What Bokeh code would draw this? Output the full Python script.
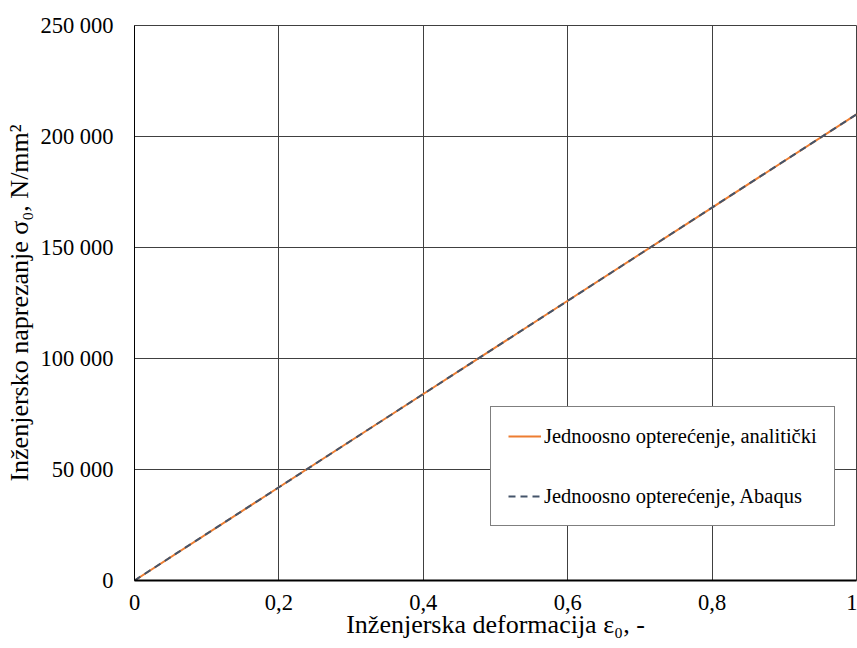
from bokeh.plotting import figure
from bokeh.models import Legend, LegendItem, FixedTicker, Range1d
from bokeh.embed import file_html
from bokeh.resources import INLINE

# data
strain = [0.0, 0.2, 0.4, 0.6, 0.8, 1.0]
stress_analytic = [0, 42000, 84000, 126000, 168000, 210000]
stress_abaqus = [0, 42000, 84000, 126000, 168000, 210000]
x_ticks = [0, 0.2, 0.4, 0.6, 0.8, 1.0]
x_tick_labels = ["0", "0,2", "0,4", "0,6", "0,8", "1"]
y_ticks = [0, 50000, 100000, 150000, 200000, 250000]
y_tick_labels = ["0", "50 000", "100 000", "150 000", "200 000", "250 000"]

FONT = "Liberation Serif"

p = figure(width=857, height=648, output_backend="svg", toolbar_location=None,
           x_range=Range1d(0, 1), y_range=Range1d(0, 250000),
           min_border_left=134, min_border_top=25, min_border_bottom=68, min_border_right=1)
p.outline_line_color = "#404040"
p.outline_line_width = 1

r1 = p.line(strain, stress_analytic, line_color="#ED7D31", line_width=2)
r2 = p.line(strain, stress_abaqus, line_color="#44546A", line_width=2, line_dash="7 5")

for ax in (p.xaxis[0], p.yaxis[0]):
    ax.major_tick_line_color = None
    ax.minor_tick_line_color = None
    ax.major_tick_out = 0
    ax.major_tick_in = 0
    ax.minor_tick_out = 0
    ax.major_label_text_font = FONT
    ax.major_label_text_font_size = "22.5px"
    ax.major_label_text_color = "black"
    ax.axis_label_text_font = FONT
    ax.axis_label_text_font_size = "26px"
    ax.axis_label_text_font_style = "normal"
    ax.axis_label_text_color = "black"
    ax.axis_line_color = "black"

p.xaxis.ticker = FixedTicker(ticks=x_ticks)
p.yaxis.ticker = FixedTicker(ticks=y_ticks)
p.xaxis.major_label_overrides = {t: l for t, l in zip(x_ticks, x_tick_labels)}
p.yaxis.major_label_overrides = {t: l for t, l in zip(y_ticks, y_tick_labels)}
p.xaxis.axis_line_width = 2
p.yaxis.axis_line_width = 1
p.xaxis.major_label_standoff = 14
p.yaxis.major_label_standoff = 21
p.xaxis.axis_label_standoff = -3
p.yaxis.axis_label_standoff = 3
p.xaxis.axis_label = "Inženjerska deformacija ε₀, -"
p.yaxis.axis_label = "Inženjersko naprezanje σ₀, N/mm²"

p.xgrid.ticker = FixedTicker(ticks=x_ticks)
p.ygrid.ticker = FixedTicker(ticks=y_ticks)
p.grid.grid_line_color = "#404040"
p.grid.grid_line_width = 1

legend = Legend(items=[LegendItem(label="Jednoosno opterećenje, analitički", renderers=[r1]),
                       LegendItem(label="Jednoosno opterećenje, Abaqus", renderers=[r2])],
                location=(356, 54))
legend.label_text_font = FONT
legend.label_text_font_size = "20.5px"
legend.label_text_color = "black"
legend.border_line_color = "black"
legend.border_line_width = 1
legend.background_fill_alpha = 1
legend.padding = 17
legend.spacing = 36
legend.label_height = 24
legend.glyph_height = 24
legend.glyph_width = 33
legend.label_standoff = 3
legend.margin = 0
p.add_layout(legend, "center")

open("out.html", "w").write(file_html(p, INLINE))
